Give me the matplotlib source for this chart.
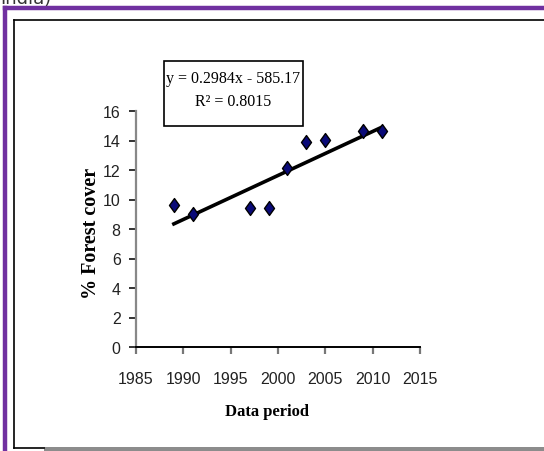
import numpy as np
import matplotlib
matplotlib.use('Agg')
import matplotlib.pyplot as plt
from matplotlib.patches import Rectangle
from matplotlib.lines import Line2D
from matplotlib.path import Path

# data
years = [1989, 1991, 1997, 1999, 2001, 2003, 2005, 2009, 2011]
forest_cover = [9.6, 9.0, 9.45, 9.45, 12.15, 13.9, 14.05, 14.65, 14.65]
slope = 0.2984
intercept = -585.17
r_squared = 0.8015
x_ticks = [1985, 1990, 1995, 2000, 2005, 2010, 2015]
y_ticks = [0, 2, 4, 6, 8, 10, 12, 14, 16]

W, H = 544, 452
fig = plt.figure(figsize=(W / 100, H / 100), dpi=100)


def fx(px):
    return px / W


def fy(py):
    return 1 - py / H


# frame around the figure
purple = '#7030a0'
fig.add_artist(Line2D([fx(5), fx(5)], [fy(9), 0], color=purple, lw=3.2))
fig.add_artist(Line2D([fx(5), 1], [fy(9), fy(9)], color=purple, lw=3.2))
fig.add_artist(Line2D([fx(13.5), fx(13.5)], [fy(20.5), fy(449)], color='black', lw=1.2))
fig.add_artist(Line2D([fx(13.5), 1], [fy(20.5), fy(20.5)], color='black', lw=1.2))
fig.add_artist(Line2D([fx(13.5), fx(44)], [fy(449), fy(449)], color='black', lw=1.2))
fig.add_artist(Rectangle((fx(44), 0), 1 - fx(44), fy(447.5), transform=fig.transFigure,
                         facecolor='#8c8c8c', edgecolor='none'))
fig.text(fx(0), fy(4), 'India)', fontsize=13, color='#333333', ha='left', va='baseline')

ax = fig.add_axes([fx(136), fy(348), fx(420) - fx(136), fy(112) - fy(348)])

# tall diamond like the excel marker
diamond = Path([(0, 1), (0.72, 0), (0, -1), (-0.72, 0), (0, 1)],
               [Path.MOVETO, Path.LINETO, Path.LINETO, Path.LINETO, Path.CLOSEPOLY])
ax.plot(years, forest_cover, linestyle='none', marker=diamond, markersize=10,
        markerfacecolor='#0a0a78', markeredgecolor='black', markeredgewidth=1.0, zorder=3)

trend_x = np.array([years[0], years[-1]])
ax.plot(trend_x, slope * trend_x + intercept, color='black', lw=2.6, zorder=2)

ax.set_xlim(1985, 2015)
ax.set_ylim(0, 16)
ax.set_xticks(x_ticks)
ax.set_yticks(y_ticks)
tick_font = dict(family='Liberation Sans', size=11.5, color='#222222')
ax.set_xticklabels([str(t) for t in x_ticks], fontdict=tick_font)
ax.set_yticklabels([str(t) for t in y_ticks], fontdict=tick_font)
ax.tick_params(axis='x', direction='out', length=5, width=1.6, color='#777777', pad=12)
ax.tick_params(axis='y', direction='out', length=5, width=1.4, color='#333333', pad=6)

ax.spines['top'].set_visible(False)
ax.spines['right'].set_visible(False)
ax.spines['left'].set_color('#888888')
ax.spines['left'].set_linewidth(1.6)
ax.spines['bottom'].set_color('black')
ax.spines['bottom'].set_linewidth(1.4)

fig.text(fx(267), fy(412), 'Data period', fontsize=12, fontweight='bold',
         family='Liberation Serif', ha='center', va='center')
fig.text(fx(91), fy(233), '% Forest cover', fontsize=14.5, fontweight='bold',
         family='Liberation Serif', rotation=90, ha='center', va='center')

# trendline equation box
fig.add_artist(Rectangle((fx(164), fy(127)), fx(303) - fx(164), fy(62) - fy(127),
                         transform=fig.transFigure, facecolor='white', edgecolor='black', lw=1.2))
fig.text(fx(233), fy(79), f'y = {slope}x - {-intercept}', fontsize=11.5,
         family='Liberation Serif', ha='center', va='center')
fig.text(fx(233), fy(102), f'R² = {r_squared}', fontsize=11.5,
         family='Liberation Serif', ha='center', va='center')

fig.savefig('out.png', dpi=100)
